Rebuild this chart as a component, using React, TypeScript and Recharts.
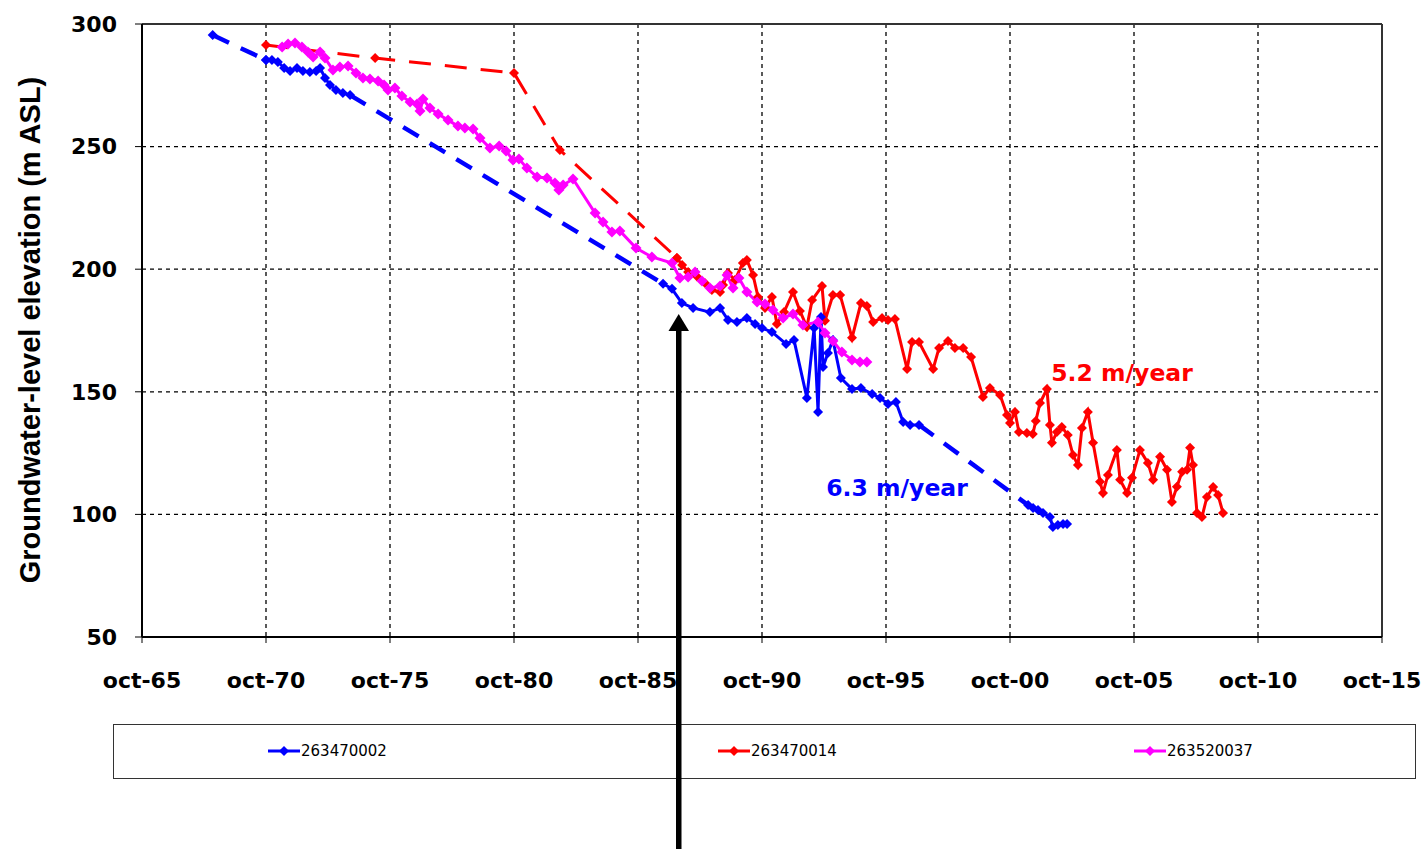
import React from 'react';
import {
  LineChart,
  Line,
  XAxis,
  YAxis,
  CartesianGrid,
  ReferenceLine,
} from 'recharts';

const W = 1427;
const H = 849;

const BLUE = '#0000ff';
const RED = '#ff0000';
const MAGENTA = '#ff00ff';

// x axis: decimal years, one tick every 5 years in october
const yearTicks = [1965.75, 1970.75, 1975.75, 1980.75, 1985.75, 1990.75, 1995.75, 2000.75, 2005.75, 2010.75, 2015.75];
const tickLabels = ['oct-65', 'oct-70', 'oct-75', 'oct-80', 'oct-85', 'oct-90', 'oct-95', 'oct-00', 'oct-05', 'oct-10', 'oct-15'];
const levelTicks = [50, 100, 150, 200, 250, 300];

const seriesNames = ['263470002', '263470014', '263520037'];

// well 263470002 (blue)
const blueStart = [[1968.6, 295.5]];
const blueEarly = [
  [1970.75, 285.3], [1970.99, 285.3], [1971.23, 284.5], [1971.48, 282.1], [1971.72, 280.8],
  [1972.0, 282.1], [1972.24, 280.8], [1972.52, 280.4], [1972.77, 280.8], [1972.93, 282.1],
  [1973.13, 278], [1973.33, 275.1], [1973.57, 273.1], [1973.85, 271.9], [1974.14, 271],
];
const blueMid = [
  [1986.76, 194.1], [1987.12, 192], [1987.52, 186.2], [1987.97, 184.2], [1988.65, 182.5],
  [1989.06, 184.2], [1989.38, 179.3], [1989.74, 178.5], [1990.14, 180.1], [1990.47, 177.7],
  [1990.75, 176], [1991.15, 174.4], [1991.72, 169.5], [1992.04, 171.1], [1992.56, 147.5],
  [1992.85, 176], [1993.01, 141.8], [1993.13, 180.5], [1993.21, 160.1], [1993.41, 165.8],
  [1993.61, 171.1], [1993.93, 155.6], [1994.38, 151.1], [1994.74, 151.5], [1995.19, 149.1],
  [1995.51, 147.5], [1995.83, 145], [1996.15, 145.8], [1996.44, 137.7], [1996.72, 136.5],
  [1997.08, 136.5],
];
const blueLate = [
  [2001.48, 103.8], [2001.68, 102.6], [2001.88, 101.8], [2002.08, 100.6], [2002.36, 98.9],
  [2002.48, 94.9], [2002.68, 95.7], [2002.89, 96.1], [2003.05, 96.1],
];

// well 263470014 (red)
const redEarly = [[1970.75, 291.4], [1975.15, 286.1], [1980.75, 280], [1982.6, 248.6]];
const redMain = [
  [1987.32, 204.6], [1987.53, 201.7], [1987.77, 198.9], [1988.13, 197], [1988.45, 194.4],
  [1988.73, 191.5], [1989.06, 190.7], [1989.18, 193.6], [1989.38, 198.5], [1989.66, 195.6],
  [1989.98, 202.5], [1990.14, 203.8], [1990.39, 197.6], [1990.59, 188.7], [1990.87, 184.2],
  [1991.15, 188.7], [1991.35, 177.7], [1991.64, 182.5], [1992.0, 190.7], [1992.28, 183],
  [1992.56, 176.4], [1992.77, 187.4], [1993.17, 193.1], [1993.29, 179], [1993.61, 189.5],
  [1993.9, 189.5], [1994.38, 172], [1994.74, 186.2], [1994.98, 185], [1995.23, 178.5],
  [1995.59, 180.1], [1995.83, 179.3], [1996.11, 179.7], [1996.6, 159.3], [1996.8, 170.3],
  [1997.08, 170.3], [1997.65, 159.3], [1997.89, 167.9], [1998.25, 170.7], [1998.53, 167.9],
  [1998.86, 167.9], [1999.18, 164.2], [1999.66, 147.9], [1999.94, 151.6], [2000.35, 148.7],
  [2000.63, 140.5], [2000.75, 137.3], [2000.95, 141.8], [2001.11, 133.6], [2001.43, 133.2],
  [2001.67, 132.8], [2001.79, 138.1], [2001.96, 145.4], [2002.24, 151.1], [2002.36, 136.5],
  [2002.44, 129.2], [2002.64, 133.6], [2002.84, 135.6], [2003.08, 132.4], [2003.29, 124.2],
  [2003.49, 120.1], [2003.65, 135.2], [2003.89, 141.8], [2004.1, 129.2], [2004.38, 113.3],
  [2004.5, 108.7], [2004.7, 116.1], [2005.06, 126.3], [2005.19, 114.1], [2005.47, 108.7],
  [2005.67, 114.9], [2005.99, 126.3], [2006.31, 121], [2006.52, 114.1], [2006.8, 123.5],
  [2007.08, 118.2], [2007.28, 105.1], [2007.48, 111.3], [2007.69, 117.4], [2007.89, 118.2],
  [2008.01, 127.2], [2008.13, 120.1], [2008.29, 100.6], [2008.49, 98.9], [2008.69, 107.1],
  [2008.94, 111.2], [2009.14, 107.9], [2009.34, 100.6],
];

// well 263520037 (magenta)
const magentaLevels = [
  [1971.4, 290.6], [1971.64, 291.8], [1971.92, 292.3], [1972.2, 290.6], [1972.44, 288.6],
  [1972.65, 286.5], [1972.93, 288.6], [1973.13, 286.1], [1973.45, 281.2], [1973.73, 282.5],
  [1974.06, 282.9], [1974.38, 280], [1974.66, 278], [1974.94, 277.6], [1975.27, 276.8],
  [1975.51, 275.1], [1975.67, 273.1], [1975.95, 273.9], [1976.23, 270.6], [1976.56, 268.2],
  [1976.84, 267.4], [1976.96, 264.5], [1977.08, 269.4], [1977.36, 265.7], [1977.69, 263.3],
  [1978.09, 260.8], [1978.49, 258.4], [1978.77, 257.6], [1979.1, 257.2], [1979.38, 253.5],
  [1979.78, 249.4], [1980.15, 250.2], [1980.43, 248.2], [1980.71, 244.5], [1980.95, 244.9],
  [1981.27, 241.3], [1981.68, 237.6], [1982.08, 237.2], [1982.4, 235.2], [1982.56, 232.3],
  [1982.73, 234.3], [1983.13, 236.8], [1984.02, 222.9], [1984.34, 219.2], [1984.7, 215.2],
  [1985.02, 215.6], [1985.67, 208.6], [1986.31, 205], [1987.12, 202.5], [1987.44, 196.4],
  [1987.77, 196.8], [1988.05, 198.9], [1988.33, 195.2], [1988.65, 192.3], [1989.06, 193.1],
  [1989.34, 197.6], [1989.58, 192.3], [1989.82, 196.4], [1990.14, 190.7], [1990.55, 186.6],
  [1990.87, 185.8], [1991.19, 183.4], [1991.6, 180.1], [1992.0, 181.7], [1992.4, 177.2],
  [1993.01, 178.5], [1993.29, 174], [1993.61, 170.7], [1993.97, 166.2], [1994.38, 163],
  [1994.7, 162.2], [1994.98, 162.2],
];

const toRows = (pts: number[][]) => pts.map(([t, v]) => ({ t, v }));
const last = (pts: number[][]) => pts[pts.length - 1];

// dashed pieces where readings are sparse
const blueGap1 = toRows([...blueStart, blueEarly[0]]);
const blueGap2 = toRows([last(blueEarly), blueMid[0]]);
const blueGap3 = toRows([last(blueMid), blueLate[0]]);
const redGap = toRows([...redEarly, redMain[0]]);

const diamond = (color: string, r = 5) => (props: any) => {
  const { cx, cy, index } = props;
  if (cx == null || cy == null) return <g key={index} />;
  return (
    <path
      key={index}
      d={`M${cx},${cy - r}L${cx + r},${cy}L${cx},${cy + r}L${cx - r},${cy}Z`}
      fill={color}
    />
  );
};

const tickFont = { fill: '#000', fontSize: 22, fontWeight: 'bold', fontFamily: '"DejaVu Sans", sans-serif' };

const LegendItem = ({ color, name, left }: { color: string; name: string; left: number }) => (
  <div style={{ position: 'absolute', left, top: 18, height: 16, display: 'flex', alignItems: 'center' }}>
    <svg width={32} height={16}>
      <line x1={0} y1={8} x2={32} y2={8} stroke={color} strokeWidth={3} />
      <path d="M16,3L21,8L16,13L11,8Z" fill={color} />
    </svg>
    <span style={{ fontFamily: '"DejaVu Sans", sans-serif', fontSize: 15, color: '#000', marginLeft: 1 }}>{name}</span>
  </div>
);

export default function App() {
  return (
    <div style={{ position: 'absolute', left: 0, top: 0, width: W, height: H, background: '#fff' }}>
      <LineChart width={W} height={H} margin={{ top: 24, right: 45, bottom: 152, left: 0 }}>
        <CartesianGrid stroke="#000" strokeDasharray="4 4" strokeWidth={1.3} />
        <XAxis
          type="number"
          dataKey="t"
          domain={[1965.75, 2015.75]}
          ticks={yearTicks}
          tickFormatter={(v: number) => tickLabels[yearTicks.indexOf(v)]}
          height={60}
          axisLine={{ stroke: '#000', strokeWidth: 2 }}
          tickLine={{ stroke: '#000' }}
          tickSize={6}
          tickMargin={29}
          tick={tickFont}
          interval={0}
        />
        <YAxis
          type="number"
          domain={[50, 300]}
          ticks={levelTicks}
          width={142}
          axisLine={{ stroke: '#000', strokeWidth: 2 }}
          tickLine={{ stroke: '#000' }}
          tickSize={7}
          tickMargin={18}
          tick={tickFont}
          interval={0}
        />
        <ReferenceLine y={300} stroke="#333" strokeWidth={2} />
        <ReferenceLine x={2015.75} stroke="#333" strokeWidth={2} />

        <Line data={redGap} dataKey="v" stroke={RED} strokeWidth={3} strokeDasharray="22 14" dot={diamond(RED)} isAnimationActive={false} />
        <Line data={toRows(redMain)} dataKey="v" stroke={RED} strokeWidth={3} dot={diamond(RED)} isAnimationActive={false} />

        <Line data={blueGap1} dataKey="v" stroke={BLUE} strokeWidth={4.5} strokeDasharray="18 13" dot={diamond(BLUE)} isAnimationActive={false} />
        <Line data={blueGap2} dataKey="v" stroke={BLUE} strokeWidth={4.5} strokeDasharray="18 13" dot={false} isAnimationActive={false} />
        <Line data={blueGap3} dataKey="v" stroke={BLUE} strokeWidth={4.5} strokeDasharray="18 13" dot={false} isAnimationActive={false} />
        <Line data={toRows(blueEarly)} dataKey="v" stroke={BLUE} strokeWidth={3} dot={diamond(BLUE)} isAnimationActive={false} />
        <Line data={toRows(blueMid)} dataKey="v" stroke={BLUE} strokeWidth={3} dot={diamond(BLUE)} isAnimationActive={false} />
        <Line data={toRows(blueLate)} dataKey="v" stroke={BLUE} strokeWidth={3} dot={diamond(BLUE)} isAnimationActive={false} />

        <Line data={toRows(magentaLevels)} dataKey="v" stroke={MAGENTA} strokeWidth={3} dot={diamond(MAGENTA, 5.5)} isAnimationActive={false} />
      </LineChart>

      <svg width={W} height={H} style={{ position: 'absolute', left: 0, top: 0, pointerEvents: 'none' }}>
        <text
          transform="translate(30,330) rotate(-90)"
          textAnchor="middle"
          dominantBaseline="central"
          fontFamily='"Liberation Sans", Arial, sans-serif'
          fontWeight="bold"
          fontSize={29}
          fill="#000"
        >
          Groundwater-level elevation (m ASL)
        </text>
        <text x={897} y={496} textAnchor="middle" fontFamily='"DejaVu Sans", sans-serif' fontWeight="bold" fontSize={23.5} fill={BLUE}>
          6.3 m/year
        </text>
        <text x={1122} y={381} textAnchor="middle" fontFamily='"DejaVu Sans", sans-serif' fontWeight="bold" fontSize={23.5} fill={RED}>
          5.2 m/year
        </text>
      </svg>

      <div style={{ position: 'absolute', left: 113, top: 724, width: 1301, height: 53, border: '1px solid #333', background: '#fff' }}>
        <LegendItem color={BLUE} name={seriesNames[0]} left={154} />
        <LegendItem color={RED} name={seriesNames[1]} left={604} />
        <LegendItem color={MAGENTA} name={seriesNames[2]} left={1020} />
      </div>

      <svg width={W} height={H} style={{ position: 'absolute', left: 0, top: 0, pointerEvents: 'none' }}>
        <rect x={676} y={328} width={5.5} height={H - 328} fill="#000" />
        <path d="M678.7,314L689,331L668.5,331Z" fill="#000" />
      </svg>
    </div>
  );
}
